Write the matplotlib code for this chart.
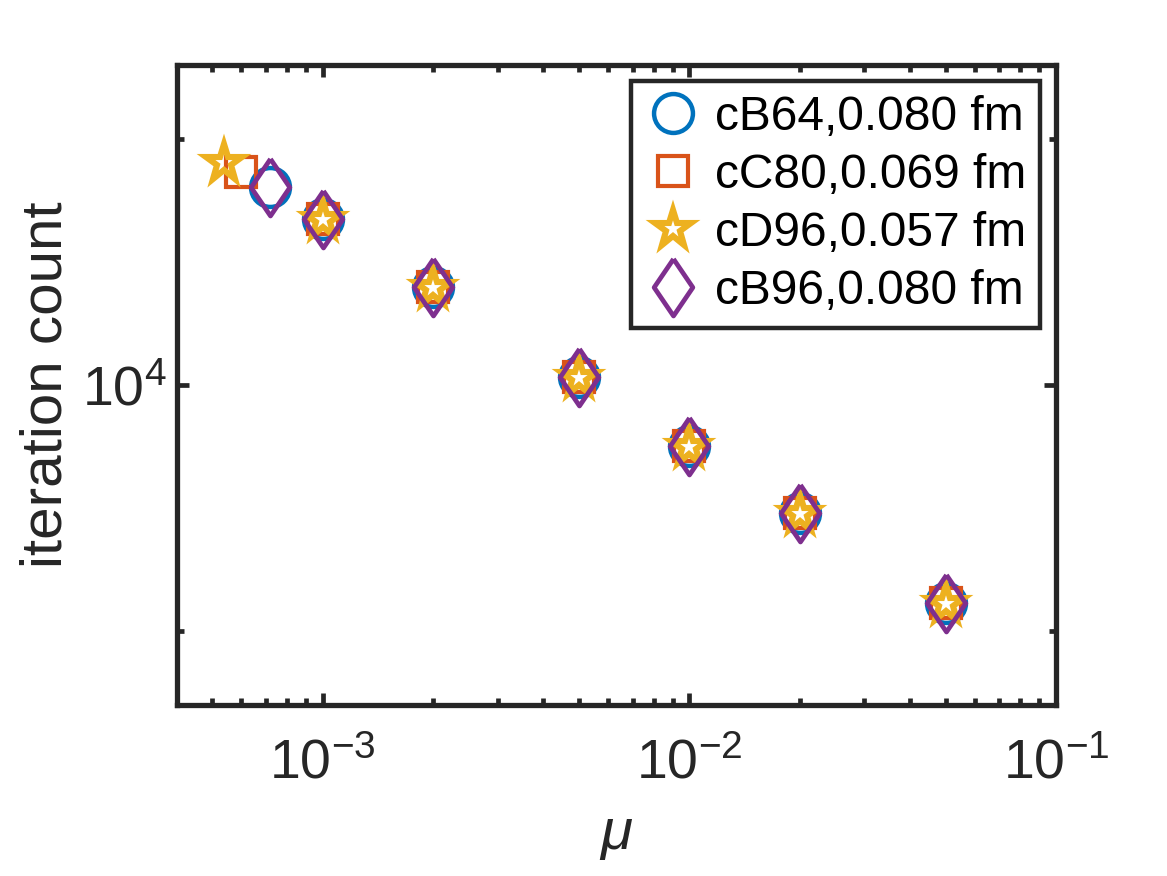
import numpy as np
import matplotlib
matplotlib.use("Agg")
import matplotlib.pyplot as plt
from matplotlib.markers import MarkerStyle
from matplotlib.ticker import LogLocator, NullFormatter, FixedLocator

plt.rcParams['font.family'] = ['Liberation Sans', 'DejaVu Sans']
plt.rcParams['mathtext.fontset'] = 'custom'
plt.rcParams['mathtext.rm'] = 'Liberation Sans'
plt.rcParams['mathtext.it'] = 'Liberation Sans:italic'
plt.rcParams['axes.unicode_minus'] = False

# ---- data ----
labels = ['cB64,0.080 fm', 'cC80,0.069 fm', 'cD96,0.057 fm', 'cB96,0.080 fm']
mu_cB64 = [0.00072, 0.001, 0.002, 0.005, 0.01, 0.02, 0.05]
mu_cC80 = [0.0006, 0.001, 0.002, 0.005, 0.01, 0.02, 0.05]
mu_cD96 = [0.00054, 0.001, 0.002, 0.005, 0.01, 0.02, 0.05]
mu_cB96 = [0.00072, 0.001, 0.002, 0.005, 0.01, 0.02, 0.05]
it_cB64 = [17490, 15950, 13170, 10230, 8420, 6970, 5410]
it_cC80 = [18240, 15950, 13170, 10220, 8410, 6970, 5410]
it_cD96 = [18700, 15900, 13130, 10190, 8390, 6950, 5390]
it_cB96 = [17490, 15960, 13180, 10230, 8420, 6975, 5410]

colors = ['#0072BD', '#D95319', '#EDB120', '#7E2F8E']

fig = plt.figure(figsize=(11.67, 8.76), dpi=100)
ax = fig.add_axes([0.1514, 0.1952, 0.7535, 0.7306])

diamond = np.array([[0, 1], [0.68, 0], [0, -1], [-0.68, 0], [0, 1]])
star = MarkerStyle('*', joinstyle='miter')
sq = MarkerStyle('s', joinstyle='miter')
dm = MarkerStyle(diamond, joinstyle='miter')

mew = 3.0
ax.plot(mu_cB64, it_cB64, linestyle='none', marker='o', markersize=28,
        markerfacecolor='none', markeredgecolor=colors[0], markeredgewidth=3.2,
        label=labels[0])
ax.plot(mu_cC80, it_cC80, linestyle='none', marker=sq, markersize=21.6,
        markerfacecolor='none', markeredgecolor=colors[1], markeredgewidth=mew,
        label=labels[1])
ax.plot(mu_cD96, it_cD96, linestyle='none', marker=star, markersize=28,
        markerfacecolor='none', markeredgecolor=colors[2], markeredgewidth=4.4,
        label=labels[2])
ax.plot(mu_cB96, it_cB96, linestyle='none', marker=dm, markersize=41,
        markerfacecolor='none', markeredgecolor=colors[3], markeredgewidth=3.4,
        label=labels[3])

ax.set_xscale('log')
ax.set_yscale('log')
ax.set_xlim(4e-4, 1e-1)
ax.set_ylim(10**3.6083, 10**4.3917)

ax.xaxis.set_major_locator(FixedLocator([1e-3, 1e-2, 1e-1]))
ax.xaxis.set_minor_locator(LogLocator(base=10, subs=np.arange(2, 10)))
ax.xaxis.set_minor_formatter(NullFormatter())
ax.yaxis.set_major_locator(FixedLocator([1e4]))
ax.yaxis.set_minor_locator(FixedLocator([5000, 20000]))
ax.yaxis.set_minor_formatter(NullFormatter())

dark = '#262626'
for s in ax.spines.values():
    s.set_linewidth(3.8)
    s.set_color(dark)
ax.tick_params(which='both', direction='in', top=True, right=True,
               color=dark, width=3.4, labelcolor=dark, labelsize=40)
ax.tick_params(which='major', length=8.4)
ax.tick_params(which='minor', length=5.3)
ax.tick_params(axis='x', which='major', pad=24)
ax.tick_params(axis='y', which='major', pad=7)

ax.set_xlabel('μ', fontsize=42, fontstyle='italic', color=dark, labelpad=12)
ax.set_ylabel('iteration count', fontsize=42, color=dark, labelpad=6)

leg = ax.legend(loc='upper right', fontsize=34.5, frameon=True, fancybox=False,
                framealpha=1, edgecolor=dark, numpoints=1, handlelength=1.15,
                handletextpad=0.3, labelspacing=0.27, borderpad=0.3,
                borderaxespad=0.33)
leg.get_frame().set_linewidth(3.2)

fig.savefig('out.png', dpi=100)
